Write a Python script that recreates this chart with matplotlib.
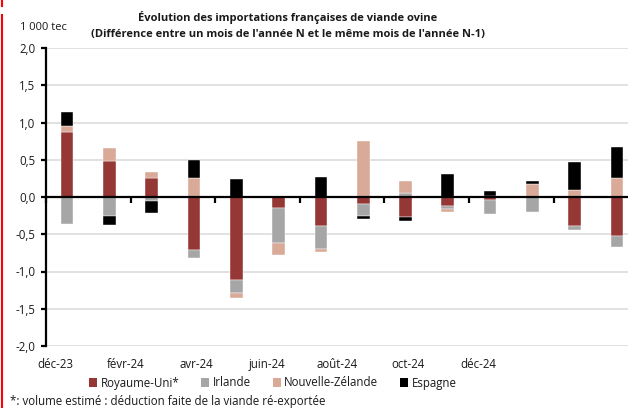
import numpy as np
import matplotlib
matplotlib.use("Agg")
import matplotlib.pyplot as plt
from matplotlib.lines import Line2D
from matplotlib.patches import Patch
import matplotlib.transforms as mtrans

plt.rcParams['font.family'] = ['Open Sans', 'DejaVu Sans']

months = ['déc-23', 'janv-24', 'févr-24', 'mars-24', 'avr-24', 'mai-24', 'juin-24',
          'juil-24', 'août-24', 'sept-24', 'oct-24', 'nov-24', 'déc-24', 'janv-25']
royaume_uni = [0.875, 0.48, 0.26, -0.715, -1.11, -0.15, -0.39, -0.09, -0.27, -0.115, -0.045, 0.0, -0.39, -0.52]
irlande = [-0.36, -0.255, -0.055, -0.10, -0.18, -0.47, -0.31, -0.17, 0.05, -0.045, -0.18, -0.20, -0.058, -0.156]
nouvelle_zelande = [0.08, 0.18, 0.08, 0.255, -0.06, -0.155, -0.04, 0.75, 0.16, -0.04, 0.02, 0.17, 0.09, 0.25]
espagne = [0.18, -0.115, -0.155, 0.245, 0.245, 0.0, 0.265, -0.03, -0.05, 0.31, 0.06, 0.04, 0.38, 0.42]
tick_labels = ['déc-23', 'févr-24', 'avr-24', 'juin-24', 'août-24', 'oct-24', 'déc-24']

series = [('Royaume-Uni*', royaume_uni, '#953735'),
          ('Irlande', irlande, '#A6A6A6'),
          ('Nouvelle-Zélande', nouvelle_zelande, '#D9AA98'),
          ('Espagne', espagne, '#000000')]

fig = plt.figure(figsize=(6.28, 4.08), dpi=100)
W, H = 628, 408
ax = fig.add_axes([46 / W, (H - 346) / H, (W - 46) / W, (346 - 48) / H])

x = np.arange(len(months))
pos_bottom = np.zeros(len(months))
neg_bottom = np.zeros(len(months))
for name, vals, col in series:
    v = np.array(vals, dtype=float)
    bottom = np.where(v >= 0, pos_bottom, neg_bottom)
    ax.bar(x, v, width=0.30, bottom=bottom, color=col, edgecolor='white',
           linewidth=0.3, zorder=3, label=name)
    pos_bottom = pos_bottom + np.where(v >= 0, v, 0)
    neg_bottom = neg_bottom + np.where(v < 0, v, 0)

ax.set_ylim(-2.0, 2.0)
ax.set_xlim(-0.5, 13.26)
yt = np.arange(-2.0, 2.01, 0.5)
ax.set_yticks(yt)
ax.set_yticklabels([f"{v:.1f}".replace('.', ',') for v in yt], fontsize=8.3, color='#1a1a1a')
for v in yt:
    if abs(v) > 1e-9:
        ax.axhline(v, color='#D9D9D9', lw=1.1, zorder=1)

for s in ['top', 'right']:
    ax.spines[s].set_visible(False)
ax.spines['left'].set_linewidth(1.6)
ax.spines['left'].set_color('black')
ax.spines['bottom'].set_position(('data', 0))
ax.spines['bottom'].set_linewidth(1.6)
ax.spines['bottom'].set_zorder(4)
ax.tick_params(axis='y', direction='out', length=3.5, width=1.6, pad=4)
ax.set_xticks(np.arange(-0.5, 13.5, 2))
ax.set_xticklabels([])
ax.tick_params(axis='x', direction='out', length=4, width=1.6)

trans = mtrans.blended_transform_factory(ax.transData, ax.transAxes)
label_pos = np.linspace(-0.28, 9.72, len(tick_labels))
for p, t in zip(label_pos, tick_labels):
    ax.text(p, -0.063, t, transform=trans, ha='center', va='center', fontsize=8.3, color='#1a1a1a')

fig.text(288 / W, 1 - 17 / H, "Évolution des importations françaises de viande ovine",
         ha='center', va='center', fontsize=8, fontweight='bold', color='#1a1a1a')
fig.text(288 / W, 1 - 35 / H, "(Différence entre un mois de l'année N et le même mois de l'année N-1)",
         ha='center', va='center', fontsize=8, fontweight='bold', color='#1a1a1a')
fig.text(43 / W, 1 - 28 / H, "1 000 tec", ha='center', va='center', fontsize=8, color='#1a1a1a')

handles = [Patch(facecolor=c, edgecolor='none') for _, _, c in series]
labels = [n for n, _, _ in series]
fig.legend(handles, labels, loc='center', bbox_to_anchor=(273 / W, 1 - 383 / H), ncol=4,
           frameon=False, fontsize=8.3, handlelength=0.7, handleheight=0.7, handletextpad=0.3,
           columnspacing=1.9, borderaxespad=0, labelcolor='#1a1a1a')

fig.text(10 / W, 1 - 401 / H, "*: volume estimé : déduction faite de la viande ré-exportée",
         ha='left', va='center', fontsize=8.3, color='#1a1a1a')

fig.add_artist(Line2D([1.5 / W, 1.5 / W], [0, 1 - 15 / H], color='#FF0000', lw=1.5,
                      transform=fig.transFigure))
fig.add_artist(Line2D([1.5 / W, 1.5 / W], [1 - 6 / H, 1], color='#FF0000', lw=1.5,
                      transform=fig.transFigure))

fig.savefig('out.png', dpi=100)
